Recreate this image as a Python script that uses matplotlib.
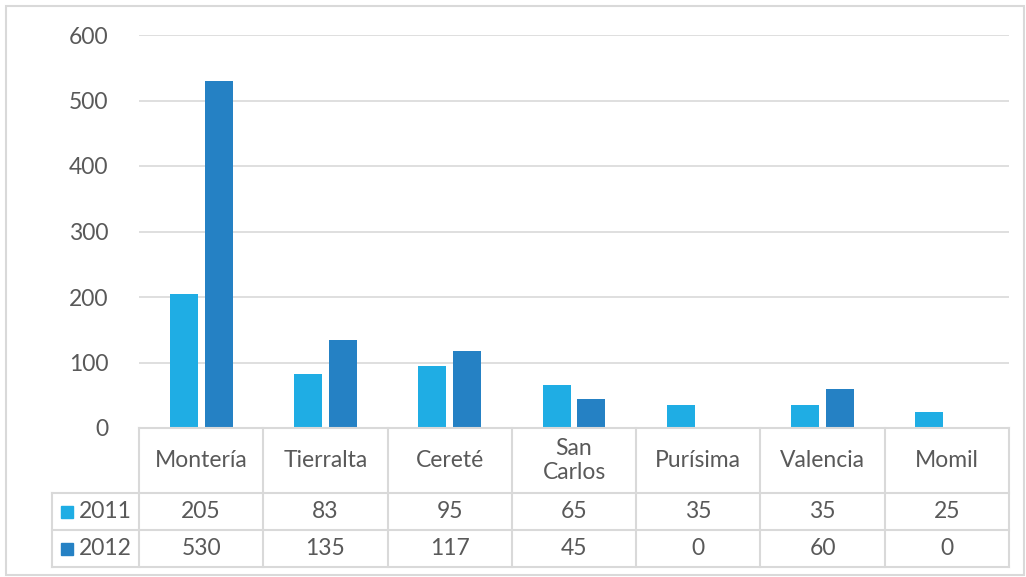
import matplotlib
matplotlib.use("Agg")
import matplotlib.pyplot as plt
from matplotlib.patches import Rectangle
import numpy as np

categories = ["Montería", "Tierralta", "Cereté", "San\nCarlos", "Purísima", "Valencia", "Momil"]
series_names = ["2011", "2012"]
values_2011 = [205, 83, 95, 65, 35, 35, 25]
values_2012 = [530, 135, 117, 45, 0, 60, 0]
yticks = [0, 100, 200, 300, 400, 500, 600]

colors = ["#1FADE4", "#2581C4"]
text_color = "#595959"
grid_color = "#D9D9D9"

plt.rcParams["font.family"] = ["Lato", "DejaVu Sans"]
FS = 16.5

W, H = 1026, 577
fig = plt.figure(figsize=(W / 100, H / 100), dpi=100)

# pixel layout helpers
def fx(px):
    return px / W

def fy(py):
    return 1 - py / H

left, right, top, base = 139, 1009, 35, 428
row_lbl_left = 52
header_bottom, row1_bottom, row2_bottom = 493, 530, 567

ax = fig.add_axes([fx(left), fy(base), fx(right - left), (base - top) / H])
n = len(categories)
x = np.arange(n)
bw = 0.225
ax.bar(x - 0.14, values_2011, bw, color=colors[0], zorder=3)
ax.bar(x + 0.14, values_2012, bw, color=colors[1], zorder=3)
ax.set_xlim(-0.5, n - 0.5)
ax.set_ylim(0, 600)
ax.set_yticks(yticks)
ax.set_yticklabels([str(t) for t in yticks], fontsize=FS, color=text_color)
ax.tick_params(axis="y", length=0, pad=22)
ax.set_xticks([])
ax.grid(axis="y", color=grid_color, lw=1.2, zorder=0)
for s in ax.spines.values():
    s.set_visible(False)

# outer chart border
fig.patches.append(Rectangle((fx(6), fy(575)), fx(1018), (575 - 6) / H,
                             transform=fig.transFigure, fill=False,
                             ec=grid_color, lw=1.5))

# data table
def hline(y, x0, x1):
    fig.add_artist(plt.Line2D([fx(x0), fx(x1)], [fy(y), fy(y)], color=grid_color, lw=1.5))

def vline(xp, y0, y1):
    fig.add_artist(plt.Line2D([fx(xp), fx(xp)], [fy(y0), fy(y1)], color=grid_color, lw=1.5))

col_w = (right - left) / n
hline(base, left, right)
hline(header_bottom, row_lbl_left, right)
hline(row1_bottom, row_lbl_left, right)
hline(row2_bottom, row_lbl_left, right)
for i in range(n + 1):
    vline(left + i * col_w, base, row2_bottom)
vline(row_lbl_left, header_bottom, row2_bottom)

for i, cat in enumerate(categories):
    cx = left + (i + 0.5) * col_w
    fig.text(fx(cx), fy((base + header_bottom) / 2), cat, ha="center", va="center",
             fontsize=FS, color=text_color, linespacing=1.15)
    fig.text(fx(cx), fy((header_bottom + row1_bottom) / 2), str(values_2011[i]),
             ha="center", va="center", fontsize=FS, color=text_color)
    fig.text(fx(cx), fy((row1_bottom + row2_bottom) / 2), str(values_2012[i]),
             ha="center", va="center", fontsize=FS, color=text_color)

rows = [(header_bottom, row1_bottom), (row1_bottom, row2_bottom)]
for (y0, y1), name, c in zip(rows, series_names, colors):
    cy = (y0 + y1) / 2
    fig.patches.append(Rectangle((fx(61), fy(cy + 6)), fx(12), 12 / H,
                                 transform=fig.transFigure, color=c))
    fig.text(fx(79), fy(cy), name, ha="left", va="center", fontsize=FS, color=text_color)

fig.savefig("out.png", dpi=100)
